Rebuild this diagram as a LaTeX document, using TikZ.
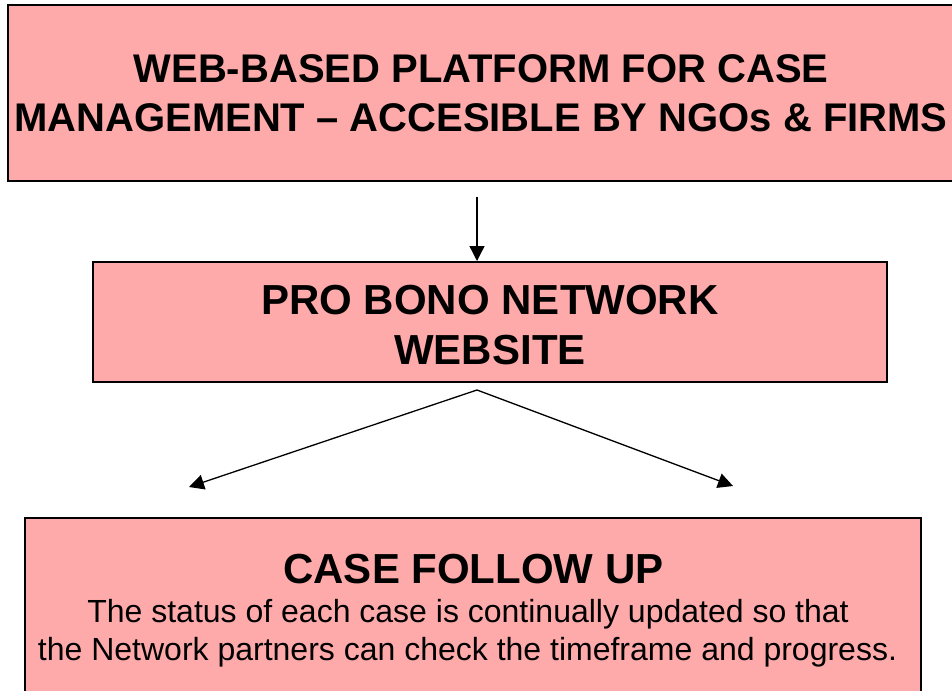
\documentclass[tikz,border=0pt]{standalone}
\usepackage{fontspec}
\setmainfont{Liberation Sans}
\usetikzlibrary{arrows.meta}
\definecolor{boxpink}{RGB}{255,170,170}
\begin{document}
\begin{tikzpicture}[x=1pt,y=-1pt,
  box/.style={draw=black, line width=2pt, fill=boxpink, inner sep=0pt, align=center},
  arr/.style={line width=1.3pt, -{Triangle[length=15pt,width=15pt]}},
  headfont/.style={font=\fontsize{42}{50}\selectfont\bfseries},
  bodyfont/.style={font=\fontsize{32}{38}\selectfont}]
\clip (0,0) rectangle (952,690);
\fill[white] (0,0) rectangle (952,690);
% top box (right edge runs past the picture)
\node[box, minimum width=952pt, minimum height=176pt] (top) at (484,93) {};
\node[align=center, inner sep=0pt, font=\fontsize{40}{49}\selectfont\bfseries] (toptext) at (481,93)
  {WEB-BASED PLATFORM FOR CASE\\MANAGEMENT – ACCESIBLE BY NGOs \& FIRMS};
% middle box
\node[box, minimum width=794pt, minimum height=120pt] (mid) at (490,322) {};
\node[align=center, inner sep=0pt, headfont] (midtext) at (490,325) {PRO BONO NETWORK\\WEBSITE};
% bottom box
\node[box, minimum width=896pt, minimum height=200pt, anchor=north west] (bot) at (24,517) {};
\node[headfont, anchor=base, inner sep=0pt] (bh) at (473.5,583) {CASE FOLLOW UP};
\node[bodyfont, anchor=base, inner sep=0pt] (b1) at (468,622) {The status of each case is continually updated so that};
\node[bodyfont, anchor=base, inner sep=0pt] (b2) at (467.5,660) {the Network partners can check the timeframe and progress.};
% arrows
\coordinate (s1) at (477,197);
\draw[arr] (s1) -- (s1 |- mid.north);
\coordinate (apex) at (477,390);
\coordinate (lt) at (189,487);
\coordinate (rt) at (733,486);
\draw[arr] (apex) -- (lt);
\draw[arr] (apex) -- (rt);
\end{tikzpicture}
\end{document}
